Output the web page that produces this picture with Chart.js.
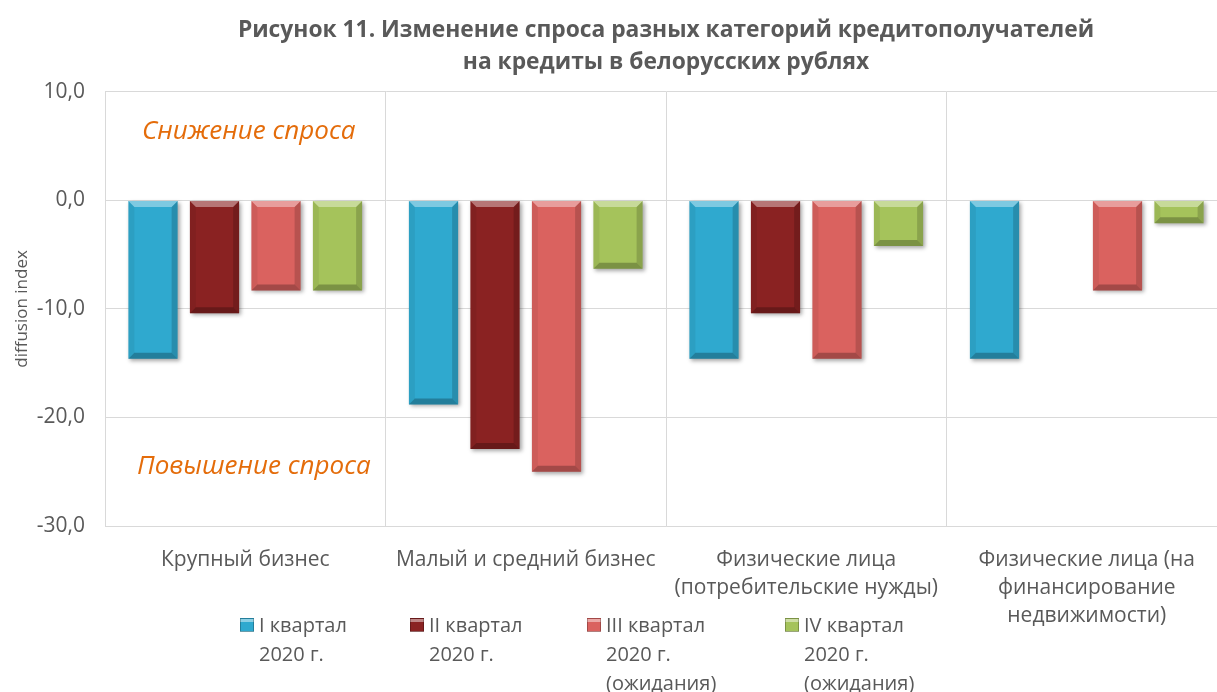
<!DOCTYPE html>
<html><head><meta charset="utf-8">
<script src="https://cdn.jsdelivr.net/npm/chart.js@4/dist/chart.umd.min.js"></script>
<style>
html,body{margin:0;padding:0;background:#fff;overflow:hidden;width:1217px;height:692px}
#wrap{position:relative;width:1230px;height:692px}
canvas{display:block}
.lg{position:absolute;font-family:'Open Sans',sans-serif;font-size:20px;color:#595959;line-height:29px;white-space:nowrap}
.lg .bx{position:absolute;left:0;top:8px;width:14px;height:14px;box-sizing:border-box}
.lg .tx{position:absolute;left:19px;top:0}
</style></head><body>
<div id="wrap"><canvas id="c" width="1230" height="692"></canvas></div>
<script>
const titleLines = ['Рисунок 11. Изменение спроса разных категорий кредитополучателей', 'на кредиты в белорусских рублях'];
const categories = [['Крупный бизнес'], ['Малый и средний бизнес'], ['Физические лица', '(потребительские нужды)'], ['Физические лица (на', 'финансирование', 'недвижимости)']];
const seriesNames = [['I квартал', '2020 г.'], ['II квартал', '2020 г.'], ['III квартал', '2020 г.', '(ожидания)'], ['IV квартал', '2020 г.', '(ожидания)']];
const q1 = [-14.6, -18.8, -14.6, -14.6];
const q2 = [-10.4, -22.9, -10.4, null];
const q3 = [-8.3, -25.0, -14.6, -8.3];
const q4 = [-8.3, -6.3, -4.2, -2.1];
const yTicks = [10, 0, -10, -20, -30];
const yTitle = 'diffusion index';
const noteUp = 'Снижение спроса';
const noteDown = 'Повышение спроса';

const colors = ['#2FA9CF', '#8A2222', '#DA625F', '#A5C35B'];
const legendX = [240, 410, 587, 785];
const series = [q1, q2, q3, q4];

const bevel = {
  id: 'bevel',
  beforeDatasetDraw(chart) {
    const ctx = chart.ctx;
    ctx.save();
    ctx.shadowColor = 'rgba(0,0,0,0.35)';
    ctx.shadowBlur = 4;
    ctx.shadowOffsetX = 2;
    ctx.shadowOffsetY = 2;
  },
  afterDatasetDraw(chart, args) {
    const ctx = chart.ctx;
    ctx.restore();
    const meta = args.meta;
    meta.data.forEach((el, i) => {
      const v = chart.data.datasets[args.index].data[i];
      if (v === null || v === undefined) return;
      const p = el.getProps(['x', 'y', 'base', 'width'], true);
      const l = p.x - p.width / 2, r = p.x + p.width / 2;
      const t = Math.min(p.y, p.base), b = Math.max(p.y, p.base);
      const s = 6;
      ctx.save();
      ctx.fillStyle = 'rgba(255,255,255,0.38)';
      ctx.beginPath(); ctx.moveTo(l, t); ctx.lineTo(r, t); ctx.lineTo(r - s, t + s); ctx.lineTo(l + s, t + s); ctx.closePath(); ctx.fill();
      ctx.fillStyle = 'rgba(0,0,0,0.06)';
      ctx.beginPath(); ctx.moveTo(l, t); ctx.lineTo(l + s, t + s); ctx.lineTo(l + s, b - s); ctx.lineTo(l, b); ctx.closePath(); ctx.fill();
      ctx.fillStyle = 'rgba(0,0,0,0.16)';
      ctx.beginPath(); ctx.moveTo(r, t); ctx.lineTo(r - s, t + s); ctx.lineTo(r - s, b - s); ctx.lineTo(r, b); ctx.closePath(); ctx.fill();
      ctx.fillStyle = 'rgba(0,0,0,0.25)';
      ctx.beginPath(); ctx.moveTo(l, b); ctx.lineTo(r, b); ctx.lineTo(r - s, b - s); ctx.lineTo(l + s, b - s); ctx.closePath(); ctx.fill();
      ctx.restore();
    });
  }
};

const texts = {
  id: 'texts',
  afterDraw(chart) {
    const ctx = chart.ctx;
    const ca = chart.chartArea;
    ctx.save();
    ctx.fillStyle = '#595959';
    ctx.font = '17px "Open Sans"';
    ctx.textAlign = 'center';
    ctx.textBaseline = 'middle';
    ctx.translate(22, (ca.top + ca.bottom) / 2);
    ctx.rotate(-Math.PI / 2);
    ctx.fillText(yTitle, 0, 0);
    ctx.restore();
    ctx.save();
    ctx.fillStyle = '#E46C0A';
    ctx.font = 'italic 26px "Open Sans"';
    ctx.textAlign = 'left';
    ctx.textBaseline = 'middle';
    ctx.fillText(noteUp, ca.left + 37, 132);
    ctx.fillText(noteDown, ca.left + 32, 467);
    ctx.restore();
  }
};

new Chart(document.getElementById('c'), {
  type: 'bar',
  data: {
    labels: categories,
    datasets: series.map((d, i) => ({
      label: seriesNames[i].join(' '),
      data: d,
      backgroundColor: colors[i],
      borderWidth: 0,
      categoryPercentage: 0.877,
      barPercentage: 0.8
    }))
  },
  options: {
    responsive: false,
    devicePixelRatio: 1,
    animation: false,
    layout: { padding: { left: 0, right: 3, top: 0, bottom: 0 } },
    plugins: {
      legend: { display: false },
      tooltip: { enabled: false },
      title: {
        display: true,
        text: titleLines,
        fullSize: false,
        color: '#595959',
        font: { family: 'Open Sans', size: 22.8, weight: 'bold', lineHeight: 1.4 },
        padding: { top: 15, bottom: 13 }
      }
    },
    scales: {
      x: {
        grid: { display: true, offset: true, color: '#D9D9D9', drawTicks: false },
        border: { display: true, color: '#D9D9D9' },
        ticks: { color: '#595959', font: { family: 'Open Sans', size: 21, lineHeight: 1.33 }, padding: 20, maxRotation: 0, autoSkip: false },
        afterFit(s) { s.height = 166; }
      },
      y: {
        min: -30, max: 10,
        afterBuildTicks(s) { s.ticks = yTicks.map(v => ({ value: v })); },
        grid: { color: '#D9D9D9', drawTicks: false },
        border: { display: true, color: '#D9D9D9' },
        ticks: {
          color: '#595959',
          font: { family: 'Open Sans', size: 21 },
          padding: 20,
          callback: v => v.toFixed(1).replace('.', ',')
        },
        afterFit(s) { s.width = 105; }
      }
    }
  },
  plugins: [bevel, texts]
});

const wrap = document.getElementById('wrap');
seriesNames.forEach((lines, i) => {
  const d = document.createElement('div');
  d.className = 'lg';
  d.style.left = legendX[i] + 'px';
  d.style.top = '610px';
  const bx = document.createElement('span');
  bx.className = 'bx';
  bx.style.background = `linear-gradient(180deg, rgba(255,255,255,0.45) 0 25%, ${colors[i]} 25% 100%)`;
  bx.style.backgroundColor = colors[i];
  bx.style.border = '1px solid rgba(0,0,0,0.25)';
  const tx = document.createElement('span');
  tx.className = 'tx';
  tx.innerHTML = lines.join('<br>');
  d.appendChild(bx); d.appendChild(tx);
  wrap.appendChild(d);
});
</script>
</body></html>
